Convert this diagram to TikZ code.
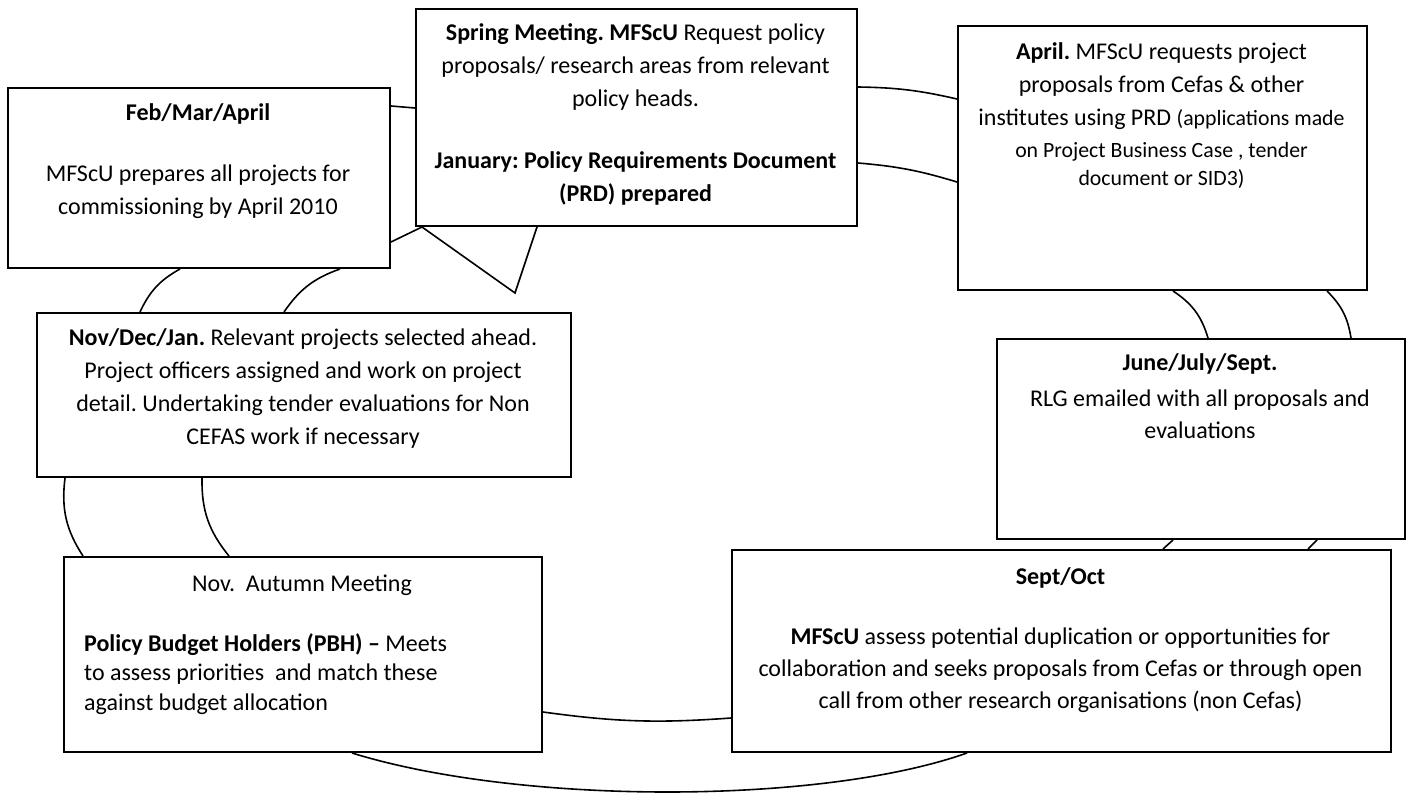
\documentclass[tikz,border=0pt]{standalone}
\usepackage{fontspec}
\setmainfont{Carlito}
\begin{document}
\frenchspacing
\begin{tikzpicture}[x=1pt,y=-1pt]
\tikzset{
  box/.style={draw, line width=2pt, rectangle, inner sep=0pt, anchor=north west},
  conn/.style={line width=1.6pt},
  txt/.style={inner sep=0pt, align=center, anchor=base, font=\fontsize{24}{33}\selectfont},
  smalltxt/.style={inner sep=0pt, align=center, anchor=base, font=\fontsize{21.8}{28}\selectfont},
}
\useasboundingbox (0,0) rectangle (1416,794);
% boxes
\node[box, minimum width=382pt, minimum height=180pt] (b1) at (7,87) {};
\node[box, minimum width=441pt, minimum height=217pt] (b2) at (415,8) {};
\node[box, minimum width=409pt, minimum height=264pt] (b3) at (957,25) {};
\node[box, minimum width=408pt, minimum height=200pt] (b4) at (996,338) {};
\node[box, minimum width=659pt, minimum height=202pt] (b5) at (731,549) {};
\node[box, minimum width=478pt, minimum height=195pt] (b6) at (63,556) {};
\node[box, minimum width=534pt, minimum height=164pt] (b7) at (36,312) {};
% texts (base anchor = baseline of the last line)
\node[txt] (t1a) at (198,121) {\textbf{Feb/Mar/April}};
\node[txt] (t1b) at (198,215) {MFScU prepares all projects for\\commissioning by April 2010};
\node[txt] (t2a) at (635.5,107) {\textbf{Spring Meeting. MFScU} Request policy\\proposals/ research areas from relevant\\policy heads.};
\node[txt] (t2b) at (635.5,202) {\textbf{January: Policy Requirements Document}\\\textbf{(PRD) prepared}};
\node[txt] (t3a) at (1161.5,126) {\textbf{April.} MFScU requests project\\proposals from Cefas \& other\\institutes using PRD {\fontsize{21.8}{28}\selectfont (applications made}};
\node[smalltxt] (t3b) at (1161.5,186) {on Project Business Case , tender\\document or SID3)};
\node[txt] (t4a) at (1200,370) {\textbf{June/July/Sept.}};
\node[txt, font=\fontsize{24}{32}\selectfont] (t4b) at (1200,438) {RLG emailed with all proposals and\\evaluations};
\node[txt] (t5a) at (1060.5,584) {\textbf{Sept/Oct}};
\node[txt, font=\fontsize{24}{32}\selectfont] (t5b) at (1060.5,708) {\textbf{MFScU} assess potential duplication or opportunities for\\collaboration and seeks proposals from Cefas or through open\\call from other research organisations (non Cefas)};
\node[txt] (t6a) at (302,591) {Nov.\ \ Autumn Meeting};
\node[txt, align=left, anchor=base west, font=\fontsize{24}{29.5}\selectfont] (t6b) at (84,710) {\textbf{Policy Budget Holders (PBH) –} Meets\\to assess priorities\ \ and match these\\against budget allocation};
\node[txt] (t7) at (303,444) {\textbf{Nov/Dec/Jan.} Relevant projects selected ahead.\\Project officers assigned and work on project\\detail. Undertaking tender evaluations for Non\\CEFAS work if necessary};
% connectors
\coordinate (apex) at (515,293);
\draw[conn] ([yshift=-19pt]b1.north east) -- ([yshift=-100pt]b2.north west);
\draw[conn] ([yshift=27pt]b1.south east) -- ([xshift=7pt]b2.south west);
\draw[conn] ([xshift=7pt]b2.south west) -- (apex) -- ([xshift=122pt]b2.south west);
\draw[conn] ([yshift=-79pt]b2.north east) to[bend left=6] ([yshift=-74pt]b3.north west);
\draw[conn] ([yshift=-155pt]b2.north east) to[bend left=6] ([yshift=-157pt]b3.north west);
\draw[conn] ([xshift=216pt]b3.south west) to[bend left=20] ([xshift=212pt]b4.north west);
\draw[conn] ([xshift=370pt]b3.south west) to[bend left=18] ([xshift=355pt]b4.north west);
\draw[conn] ([xshift=177pt]b4.south west) -- ([xshift=432pt]b5.north west);
\draw[conn] ([xshift=321pt]b4.south west) -- ([xshift=577pt]b5.north west);
\draw[conn] ([yshift=41pt]b6.south east) to[bend right=6] ([yshift=35pt]b5.south west);
\draw[conn] ([xshift=289pt]b6.south west) .. controls (520,805) and (820,805) .. ([xshift=236pt]b5.south west);
\draw[conn] ([xshift=29pt]b7.south west) to[bend right=20] ([xshift=20pt]b6.north west);
\draw[conn] ([xshift=166pt]b7.south west) to[bend right=20] ([xshift=166pt]b6.north west);
\draw[conn] ([xshift=173pt]b1.south west) to[bend right=18] ([xshift=104pt]b7.north west);
\draw[conn] ([xshift=333pt]b1.south west) to[bend right=18] ([xshift=248pt]b7.north west);
\end{tikzpicture}
\end{document}
